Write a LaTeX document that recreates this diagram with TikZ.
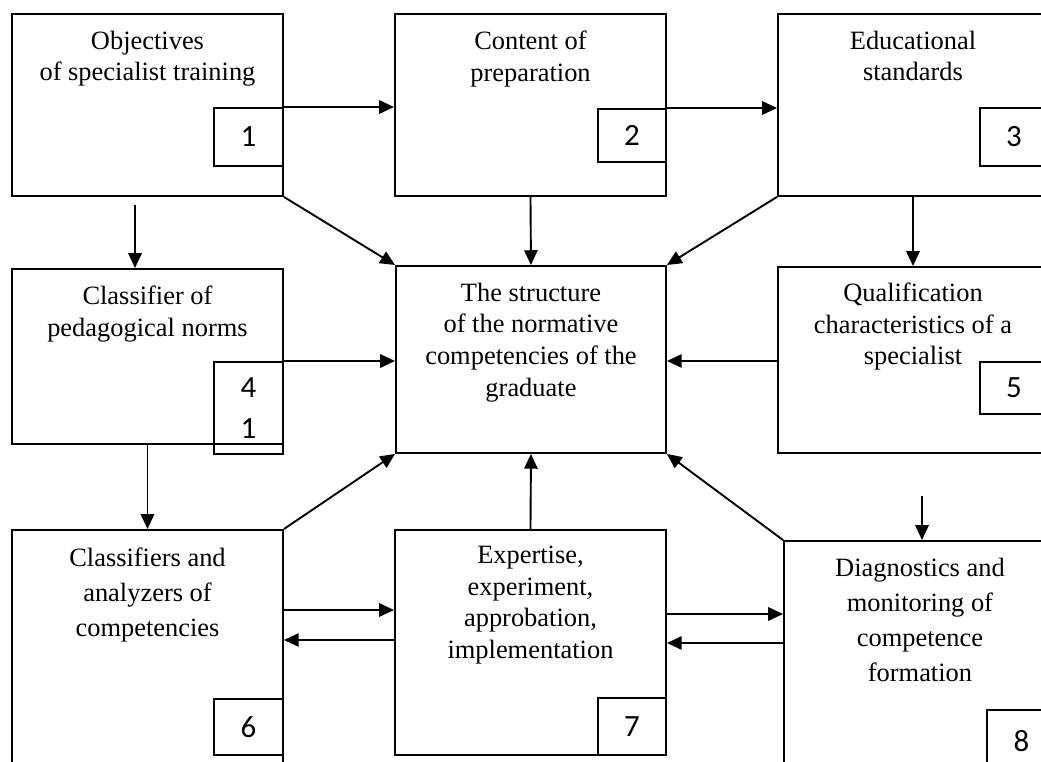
\documentclass[tikz,border=0pt]{standalone}
\usepackage{fontspec}
\setmainfont{Liberation Serif}
\newfontfamily\numfont{Carlito}
\usetikzlibrary{arrows.meta,positioning,calc}

\begin{document}
\begin{tikzpicture}
[x=0.025cm,y=-0.025cm,>={Triangle[length=10.5pt,width=9.5pt]},line width=1.35pt,
box/.style = {draw, rectangle, anchor=north west, inner sep=0pt},
num/.style = {draw, rectangle, anchor=north west, inner sep=0pt, font=\numfont\fontsize{22}{29}\selectfont, align=center},
txt/.style = {inner sep=0pt, align=center, font=\fontsize{18.8}{22.5}\selectfont},]
\useasboundingbox (0,0) rectangle (1041,762);
\clip (0,0) rectangle (1041,762);
% main blocks
\node (Obj) at (11,13)[box,minimum width=6.775cm,minimum height=4.55cm] {};
\node (Con) at (394,13)[box,minimum width=6.775cm,minimum height=4.55cm] {};
\node (Std) at (777,13)[box,minimum width=6.75cm,minimum height=4.55cm] {};
\node (Cls) at (11,268)[box,minimum width=6.775cm,minimum height=4.375cm] {};
\node (Str) at (395,265)[box,minimum width=6.75cm,minimum height=4.675cm] {};
\node (Qua) at (777,266)[box,minimum width=6.75cm,minimum height=4.65cm] {};
\node (Ana) at (11,529)[box,minimum width=6.775cm,minimum height=6.525cm] {};
\node (Exp) at (394,529)[box,minimum width=6.775cm,minimum height=5.625cm] {};
\node (Dia) at (783,540)[box,minimum width=6.8cm,minimum height=6.5cm] {};
% texts
\node[txt,below=0.425cm of Obj.north] (tObj) {Objectives\\of specialist training};
\node[txt,below=0.425cm of Con.north] (tCon) {Content of\\preparation};
\node[txt,below=0.425cm of Std.north] (tStd) {Educational\\standards};
\node[txt,below=0.425cm of Cls.north] (tCls) {Classifier of\\pedagogical norms};
\node[txt,below=0.425cm of Str.north] (tStr) {The structure\\of the normative\\competencies of the\\graduate};
\node[txt,below=0.4cm of Qua.north] (tQua) {Qualification\\characteristics of a\\specialist};
\node[txt,below=0.45cm of Ana.north,font=\fontsize{18.8}{25}\selectfont] (tAna) {Classifiers and\\analyzers of\\competencies};
\node[txt,below=0.4cm of Exp.north] (tExp) {Expertise,\\experiment,\\approbation,\\implementation};
\node[txt,below=0.425cm of Dia.north,font=\fontsize{18.8}{25}\selectfont] (tDia) {Diagnostics and\\monitoring of\\competence\\formation};
% number boxes
\node (n1) at (213,107)[num,minimum width=1.725cm,minimum height=1.45cm] {1};
\node (n2) at (597,108)[num,minimum width=1.7cm,minimum height=1.325cm] {2};
\node (n3) at (979,107)[num,minimum width=1.7cm,minimum height=1.45cm] {3};
\node (n4) at (213,361)[num,minimum width=1.725cm,minimum height=2.3cm] {4\\1};
\node (n5) at (979,361)[num,minimum width=1.7cm,minimum height=1.3cm] {5};
\node (n6) at (213,698)[num,minimum width=1.725cm,minimum height=1.4cm] {6};
\node (n7) at (597,697)[num,minimum width=1.7cm,minimum height=1.425cm] {7};
\node (n8) at (986,709)[num,minimum width=1.725cm,minimum height=1.55cm] {8};
% free ends
\coordinate (c1) at (135,205);
\coordinate (c8) at (922,496);
\coordinate (r1) at ($(Ana.north east)+(0,81)$);
\coordinate (r2) at ($(Ana.north east)+(0,111)$);
\coordinate (r3) at ($(Exp.north east)+(0,85)$);
\coordinate (r4) at ($(Exp.north east)+(0,114)$);
% connectors
\draw[->] (n1.north east)--(n1.north east -| Con.west);
\draw[->] (n2.north east)--(n2.north east -| Std.west);
\draw[->] (c1)--(c1 |- Cls.north);
\draw[->] (Obj.south east)--(Str.north west);
\draw[->] (Con.south)--(Str.north);
\draw[->] (Std.south west)--(Str.north east);
\draw[->] (Std.south)--(Qua.north);
\draw[->] (n4.north east)--(n4.north east -| Str.west);
\draw[->] (Qua.west |- n5.north)--(n5.north -| Str.east);
\draw[->] (Cls.south)--(Ana.north);
\draw[->] (Ana.north east)--(Str.south west);
\draw[->] (Exp.north)--(Str.south);
\draw[->] (Dia.north west)--(Str.south east);
\draw[->] (c8)--(c8 |- Dia.north);
\draw[->] (r1)--(r1 -| Exp.west);
\draw[<-] (r2)--(r2 -| Exp.west);
\draw[->] (r3)--(r3 -| Dia.west);
\draw[<-] (r4)--(r4 -| Dia.west);
\end{tikzpicture}
\end{document}
